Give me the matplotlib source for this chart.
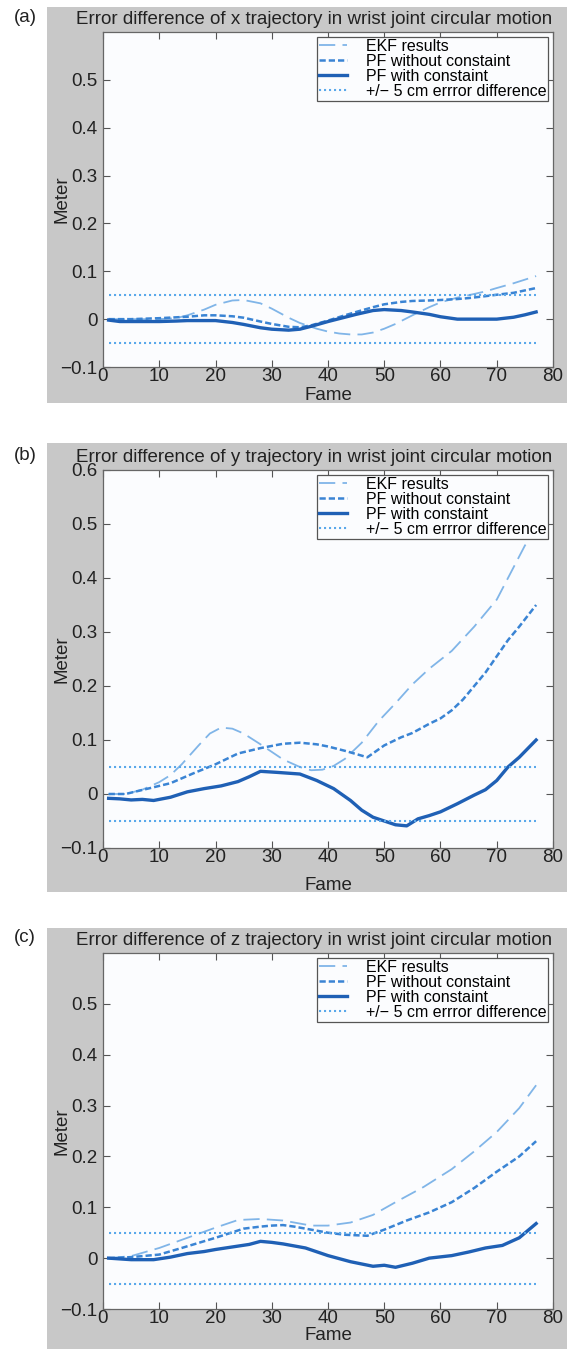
import numpy as np
import matplotlib
matplotlib.use('Agg')
from matplotlib import pyplot as plt
from matplotlib.patches import Rectangle
import matplotlib.ticker as mtick

plt.rcParams['font.family'] = ['Liberation Sans', 'DejaVu Sans']
plt.rcParams['axes.unicode_minus'] = True

# ---- data (frame, metres) ----
# (a) x trajectory
a_ekf_f = [1, 5, 10, 13, 15, 18, 20, 23, 25, 28, 30, 33, 35, 38, 40, 42, 44, 46, 48, 50, 52, 55, 58, 60, 63, 65, 68, 70, 73, 77]
a_ekf_v = [0, 0, 0, 0.002, 0.008, 0.02, 0.03, 0.039, 0.04, 0.033, 0.022, 0.003, -0.008, -0.02, -0.026, -0.03, -0.032, -0.032, -0.028, -0.02, -0.01, 0.008, 0.025, 0.035, 0.045, 0.05, 0.058, 0.065, 0.075, 0.09]
a_pfn_f = [1, 5, 10, 15, 18, 20, 23, 25, 28, 30, 33, 35, 37, 40, 43, 45, 48, 50, 53, 55, 58, 60, 63, 65, 68, 70, 73, 75, 77]
a_pfn_v = [0, 0, 0.002, 0.005, 0.008, 0.008, 0.006, 0.003, -0.005, -0.01, -0.016, -0.017, -0.013, -0.003, 0.008, 0.015, 0.025, 0.031, 0.036, 0.038, 0.039, 0.04, 0.042, 0.044, 0.048, 0.051, 0.055, 0.06, 0.065]
a_pfw_f = [1, 3, 6, 10, 13, 15, 20, 23, 25, 28, 30, 33, 35, 37, 40, 43, 45, 48, 50, 53, 55, 58, 60, 63, 65, 68, 70, 73, 75, 77]
a_pfw_v = [-0.002, -0.005, -0.005, -0.005, -0.004, -0.003, -0.003, -0.007, -0.011, -0.018, -0.021, -0.023, -0.021, -0.015, -0.005, 0.004, 0.01, 0.018, 0.02, 0.018, 0.015, 0.01, 0.005, 0, 0, 0, 0, 0.004, 0.009, 0.015]

# (b) y trajectory
b_ekf_f = [1, 4, 7, 10, 12, 14, 17, 19, 21, 23, 25, 28, 30, 32, 35, 37, 39, 41, 43, 46, 49, 52, 55, 58, 62, 66, 70, 73, 75, 77]
b_ekf_v = [0, 0, 0.008, 0.022, 0.035, 0.055, 0.09, 0.112, 0.123, 0.121, 0.112, 0.092, 0.078, 0.064, 0.05, 0.044, 0.045, 0.052, 0.065, 0.095, 0.135, 0.168, 0.203, 0.232, 0.265, 0.31, 0.36, 0.42, 0.46, 0.49]
b_pfn_f = [1, 4, 8, 12, 16, 20, 24, 28, 32, 35, 38, 40, 43, 46, 47, 50, 53, 55, 58, 60, 62, 64, 66, 68, 70, 72, 74, 77]
b_pfn_v = [0, 0, 0.01, 0.02, 0.038, 0.055, 0.075, 0.085, 0.093, 0.095, 0.092, 0.088, 0.08, 0.071, 0.068, 0.09, 0.105, 0.113, 0.13, 0.14, 0.155, 0.175, 0.2, 0.225, 0.255, 0.285, 0.31, 0.35]
b_pfw_f = [1, 3, 5, 7, 9, 12, 15, 18, 21, 24, 26, 28, 31, 35, 38, 41, 44, 46, 48, 50, 52, 54, 56, 58, 60, 63, 66, 68, 70, 72, 74, 77]
b_pfw_v = [-0.008, -0.009, -0.011, -0.01, -0.012, -0.006, 0.004, 0.01, 0.015, 0.023, 0.032, 0.042, 0.04, 0.037, 0.025, 0.01, -0.012, -0.03, -0.043, -0.05, -0.057, -0.059, -0.046, -0.04, -0.033, -0.018, -0.002, 0.008, 0.025, 0.05, 0.068, 0.1]

# (c) z trajectory
c_ekf_f = [1, 5, 10, 15, 20, 24, 28, 32, 35, 37, 40, 44, 48, 52, 57, 62, 66, 70, 74, 77]
c_ekf_v = [0, 0.004, 0.02, 0.04, 0.06, 0.075, 0.077, 0.074, 0.068, 0.064, 0.064, 0.07, 0.085, 0.11, 0.14, 0.175, 0.21, 0.248, 0.295, 0.34]
c_pfn_f = [1, 5, 10, 14, 17, 20, 25, 28, 30, 32, 34, 36, 40, 43, 47, 50, 54, 58, 62, 66, 70, 74, 77]
c_pfn_v = [0, 0.002, 0.007, 0.02, 0.03, 0.04, 0.058, 0.062, 0.064, 0.065, 0.062, 0.058, 0.05, 0.046, 0.044, 0.056, 0.074, 0.09, 0.11, 0.138, 0.17, 0.2, 0.23]
c_pfw_f = [1, 5, 9, 12, 15, 18, 20, 23, 26, 28, 30, 32, 36, 40, 44, 48, 50, 52, 55, 58, 62, 65, 68, 71, 74, 77]
c_pfw_v = [0, -0.003, -0.003, 0.002, 0.009, 0.013, 0.017, 0.022, 0.027, 0.033, 0.031, 0.028, 0.02, 0.005, -0.007, -0.016, -0.014, -0.018, -0.01, 0, 0.005, 0.012, 0.02, 0.025, 0.04, 0.068]

band = 0.05
x_ticks = [0, 10, 20, 30, 40, 50, 60, 70, 80]
labels = ['EKF results', 'PF without constaint', 'PF with constaint', '+/\u2212 5 cm errror difference']

# tag, title, series, y ticks, grey box rows, axes rows, xlabel pad
panels = [
    ('(a)', 'Error difference of x trajectory in wrist joint circular motion',
     (a_ekf_f, a_ekf_v), (a_pfn_f, a_pfn_v), (a_pfw_f, a_pfw_v),
     [-0.1, 0, 0.1, 0.2, 0.3, 0.4, 0.5], (7, 403), (32, 367), 1),
    ('(b)', 'Error difference of y trajectory in wrist joint circular motion',
     (b_ekf_f, b_ekf_v), (b_pfn_f, b_pfn_v), (b_pfw_f, b_pfw_v),
     [-0.1, 0, 0.1, 0.2, 0.3, 0.4, 0.5, 0.6], (443, 892), (470, 848), 8),
    ('(c)', 'Error difference of z trajectory in wrist joint circular motion',
     (c_ekf_f, c_ekf_v), (c_pfn_f, c_pfn_v), (c_pfw_f, c_pfw_v),
     [-0.1, 0, 0.1, 0.2, 0.3, 0.4, 0.5], (928, 1349), (953, 1309), 0),
]

W, H = 567, 1349
fig = plt.figure(figsize=(W / 100, H / 100), dpi=100)

c_ekf = '#80b5e8'
c_pfn = '#3a84d4'
c_pfw = '#1f60b5'
c_band = '#5aa8ea'
fs = 13.5


def fmt(v, pos):
    if abs(v) < 1e-9:
        return '0'
    return ('%g' % v).replace('-', '\u2212')


for tag, title, ekf, pfn, pfw, yt, grey, axy, xpad in panels:
    # grey panel behind each plot
    fig.patches.append(Rectangle((47 / W, 1 - grey[1] / H), (W - 47) / W, (grey[1] - grey[0]) / H,
                                 transform=fig.transFigure, facecolor='#c8c8c8', edgecolor='none', zorder=-10))
    ax = fig.add_axes([103 / W, 1 - axy[1] / H, 450 / W, (axy[1] - axy[0]) / H])
    ax.set_facecolor('#fbfcfe')
    ax.plot(ekf[0], ekf[1], color=c_ekf, lw=1.3, dashes=(9, 4), label=labels[0])
    ax.plot(pfn[0], pfn[1], color=c_pfn, lw=1.8, dashes=(2.5, 1.2), label=labels[1])
    ax.plot(pfw[0], pfw[1], color=c_pfw, lw=2.4, label=labels[2])
    ax.plot([1, 77], [band, band], color=c_band, lw=1.5, dashes=(1, 1.4), label=labels[3])
    ax.plot([1, 77], [-band, -band], color=c_band, lw=1.5, dashes=(1, 1.4))

    ax.set_xlim(0, 80)
    ax.set_ylim(-0.1, 0.6)
    ax.set_xticks(x_ticks)
    ax.set_yticks(yt)
    ax.yaxis.set_major_formatter(mtick.FuncFormatter(fmt))
    ax.tick_params(direction='in', top=True, right=True, length=5, width=0.8,
                   colors='#555555', labelcolor='#222222', labelsize=fs)
    ax.tick_params(axis='y', pad=4)
    ax.tick_params(axis='x', pad=1)
    for s in ax.spines.values():
        s.set_color('#666666')
        s.set_linewidth(0.9)
    ax.set_title(title, fontsize=fs, color='#222222', pad=6, x=0.47)
    ax.set_xlabel('Fame', fontsize=fs, color='#222222', labelpad=xpad)
    ax.set_ylabel('Meter', fontsize=fs, color='#222222')
    ax.yaxis.set_label_coords(-0.072, 0.5)
    leg = ax.legend(loc='upper right', fontsize=11.5, frameon=True, fancybox=False,
                    borderpad=0.12, labelspacing=0.0, handlelength=1.75, handletextpad=1.15,
                    borderaxespad=0.3)
    leg.get_frame().set_edgecolor('#555555')
    leg.get_frame().set_linewidth(0.9)
    leg.get_frame().set_facecolor('#fbfcfe')
    leg.get_frame().set_alpha(1)
    fig.text(14 / W, 1 - (axy[0] - 15) / H, tag, fontsize=fs, color='#222222', va='center')

fig.savefig('out.png', dpi=100)
